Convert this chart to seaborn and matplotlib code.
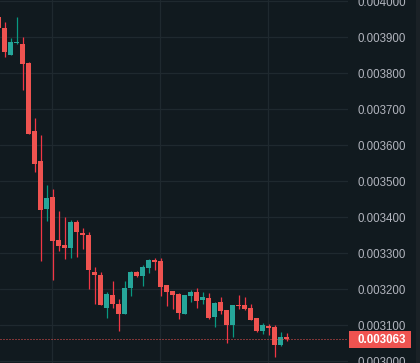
import matplotlib
matplotlib.use("Agg")
import matplotlib.pyplot as plt
import matplotlib.transforms as mtransforms
from matplotlib.patches import Rectangle
import seaborn as sns
import numpy as np

# OHLC values (oldest first)
opens = [0.003956, 0.003926, 0.003852, 0.003883, 0.003881, 0.003829, 0.003639, 0.003556,
         0.003424, 0.003456, 0.003338, 0.003324, 0.003316, 0.003388, 0.003357, 0.003352,
         0.003248, 0.003240, 0.003149, 0.003184, 0.003159, 0.003132, 0.003204, 0.003248,
         0.003238, 0.003260, 0.003281, 0.003278, 0.003212, 0.003196, 0.003188, 0.003131,
         0.003182, 0.003193, 0.003171, 0.003176, 0.003123, 0.003165, 0.003143, 0.003101,
         0.003157, 0.003157, 0.003148, 0.003120, 0.003084, 0.003098, 0.003095, 0.003045,
         0.003068]
highs = [0.003960, 0.003943, 0.003898, 0.003956, 0.003901, 0.003831, 0.003676, 0.003629,
         0.003490, 0.003478, 0.003418, 0.003401, 0.003393, 0.003393, 0.003371, 0.003360,
         0.003262, 0.003248, 0.003192, 0.003223, 0.003173, 0.003223, 0.003252, 0.003252,
         0.003268, 0.003284, 0.003287, 0.003287, 0.003212, 0.003196, 0.003191, 0.003184,
         0.003198, 0.003204, 0.003193, 0.003190, 0.003165, 0.003179, 0.003143, 0.003157,
         0.003184, 0.003179, 0.003159, 0.003120, 0.003107, 0.003104, 0.003101, 0.003082,
         0.003079]
lows = [0.003922, 0.003846, 0.003852, 0.003880, 0.003754, 0.003631, 0.003527, 0.003278,
        0.003391, 0.003226, 0.003307, 0.003284, 0.003288, 0.003291, 0.003313, 0.003201,
        0.003159, 0.003157, 0.003121, 0.003149, 0.003085, 0.003132, 0.003182, 0.003235,
        0.003210, 0.003245, 0.003254, 0.003182, 0.003154, 0.003146, 0.003117, 0.003131,
        0.003165, 0.003149, 0.003160, 0.003117, 0.003095, 0.003131, 0.003050, 0.003068,
        0.003146, 0.003143, 0.003115, 0.003082, 0.003076, 0.003073, 0.003012, 0.003043,
        0.003057]
closes = [0.003926, 0.003860, 0.003887, 0.003884, 0.003827, 0.003631, 0.003549, 0.003421,
          0.003454, 0.003335, 0.003321, 0.003316, 0.003388, 0.003360, 0.003352, 0.003254,
          0.003240, 0.003157, 0.003187, 0.003160, 0.003132, 0.003204, 0.003248, 0.003238,
          0.003262, 0.003281, 0.003276, 0.003207, 0.003193, 0.003184, 0.003135, 0.003184,
          0.003193, 0.003168, 0.003179, 0.003120, 0.003162, 0.003140, 0.003101, 0.003157,
          0.003153, 0.003146, 0.003115, 0.003084, 0.003101, 0.003093, 0.003045, 0.003068,
          0.003063]
last_price = 0.003063
price_ticks = [0.0030, 0.0031, 0.0032, 0.0033, 0.0034, 0.0035, 0.0036, 0.0037, 0.0038, 0.0039, 0.0040]
time_grid = [8.95, 26.95, 44.95]

bg = "#111a1f"
grid_c = "#1f292f"
up_body, up_wick = "#26a69a", "#089981"
dn_body, dn_wick = "#ef5350", "#f23645"

sns.set_theme(style="dark", rc={"axes.facecolor": bg, "figure.facecolor": bg,
                                "grid.color": grid_c, "axes.edgecolor": bg})
plt.rcParams['font.family'] = ['Liberation Sans', 'DejaVu Sans']

fig = plt.figure(figsize=(4.2, 3.63), dpi=100)
ax = fig.add_axes([0, 0, 348 / 420, 1])

idx = np.arange(len(opens))
o = np.array(opens); h = np.array(highs); l = np.array(lows); c = np.array(closes)
up = c >= o
min_body = 0.0000028

for i in idx:
    col_b = up_body if up[i] else dn_body
    col_w = up_wick if up[i] else dn_wick
    ax.vlines(i, l[i], h[i], color=col_w, lw=0.9, zorder=3)
    bottom = min(o[i], c[i])
    height = max(abs(c[i] - o[i]), min_body)
    ax.bar(i, height, bottom=bottom, width=0.8, color=col_b, linewidth=0, zorder=4)

# grid
for p in price_ticks:
    ax.axhline(p, color=grid_c, lw=0.9, zorder=1)
for t in time_grid:
    ax.axvline(t, color=grid_c, lw=0.9, zorder=1)
ax.grid(False)

# last price dotted line
ax.axhline(last_price, color=dn_body, lw=0.72, linestyle=(0, (1, 2)), zorder=5)

ax.set_xlim(0.25, 58.25)
ax.set_ylim(0.0029953, 0.0040036)
ax.set_xticks([])
ax.set_yticks(price_ticks)
ax.set_yticklabels([f"{p:.6f}" for p in price_ticks])
ax.yaxis.tick_right()
ax.tick_params(axis="y", length=0, pad=6.5, labelsize=8.3, labelcolor="#b2b5be")
for s in ax.spines.values():
    s.set_visible(False)

# thin strip at the right edge of the price scale
fig.patches.append(Rectangle((416 / 420, 0), 4 / 420, 1, transform=fig.transFigure,
                             facecolor="#1a2126", edgecolor="none", zorder=0))

# last price label on the price scale
trans = mtransforms.blended_transform_factory(fig.transFigure, ax.transData)
box_h = 17 / 360 * 0.001
ax.add_patch(Rectangle((349 / 420, last_price - box_h / 2 - 0.0000025), 62 / 420, box_h,
                       transform=trans, facecolor=dn_body, edgecolor="none",
                       clip_on=False, zorder=10))
ax.text(357 / 420, last_price - 0.0000025, f"{last_price:.6f}", transform=trans,
        color="white", fontsize=8.3, fontweight="semibold", va="center", ha="left",
        clip_on=False, zorder=11)

fig.savefig("out.png", dpi=100, facecolor=bg)
